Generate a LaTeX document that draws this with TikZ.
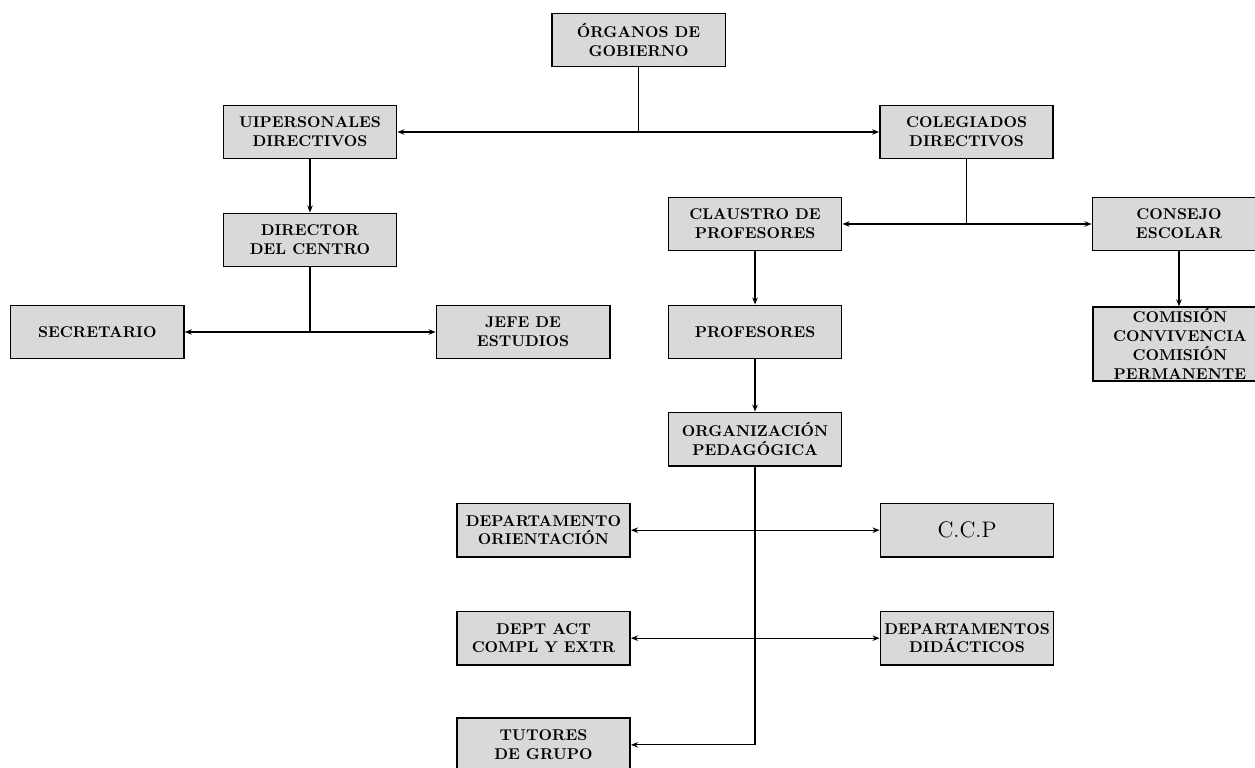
\documentclass[tikz,border=0pt]{standalone}
\usepackage{tikz}
\usetikzlibrary{arrows.meta}

\begin{document}
\begin{tikzpicture}[>={Stealth[length=4.5pt,width=3.5pt]},
    caja/.style={draw,line width=1pt,fill=gray!30,align=center,font=\bfseries,
                 minimum width=3.9cm,minimum height=1.2cm,inner xsep=1pt},
    flecha/.style={->,thick}]
              \useasboundingbox (0,0) rectangle (28.24,-17.26);
              \node[caja] (org) at (14.37,-0.90) {ÓRGANOS DE\\GOBIERNO};
              \node[caja] (uip) at (6.975,-2.97) {UIPERSONALES\\DIRECTIVOS};
              \node[caja] (col) at (21.75,-2.97) {COLEGIADOS\\DIRECTIVOS};
              \node[caja] (dir) at (6.975,-5.40) {DIRECTOR\\DEL CENTRO};
              \node[caja] (cla) at (16.99,-5.04) {CLAUSTRO DE\\PROFESORES};
              \node[caja] (con) at (26.53,-5.04) {CONSEJO\\ESCOLAR};
              \node[caja] (sec) at (2.19,-7.47) {SECRETARIO};
              \node[caja] (jef) at (11.77,-7.47) {JEFE DE\\ESTUDIOS};
              \node[caja] (pro) at (16.99,-7.47) {PROFESORES};
              \node[caja,inner ysep=1pt] (com) at (26.55,-7.74) {COMISIÓN\\CONVIVENCIA\\COMISIÓN\\PERMANENTE};
              \node[caja] (ped) at (16.99,-9.88) {ORGANIZACIÓN\\PEDAGÓGICA};
              \node[caja] (dor) at (12.23,-11.93) {DEPARTAMENTO\\ORIENTACIÓN};
              \node[caja,font=\Large] (ccp) at (21.76,-11.93) {C.C.P};
              \node[caja] (dac) at (12.23,-14.36) {DEPT ACT\\COMPL Y EXTR};
              \node[caja] (ddi) at (21.76,-14.36) {DEPARTAMENTOS\\DIDÁCTICOS};
              \node[caja] (tut) at (12.23,-16.76) {TUTORES\\DE GRUPO};
              % ramas
              \draw[flecha] (org.south) |- (uip.east);
              \draw[flecha] (org.south) |- (col.west);
              \draw[flecha] (uip) -- (dir);
              \draw[flecha] (dir.south) |- (sec.east);
              \draw[flecha] (dir.south) |- (jef.west);
              \draw[flecha] (col.south) |- (cla.east);
              \draw[flecha] (col.south) |- (con.west);
              \draw[flecha] (cla) -- (pro);
              \draw[flecha] (pro) -- (ped);
              \draw[flecha] (con.south) -- (con.south |- com.north);
              \foreach \n in {dor,dac,tut} {
                  \draw[flecha] (ped.south) |- (\n.east);
              }
              \foreach \n in {ccp,ddi} {
                  \draw[flecha] (ped.south) |- (\n.west);
              }
        \end{tikzpicture}
\end{document}
